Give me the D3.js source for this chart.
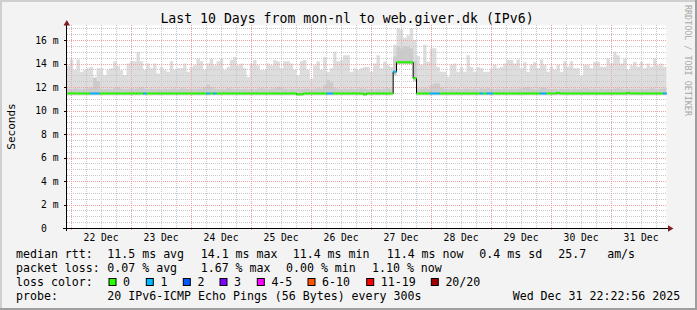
<!DOCTYPE html>
<html>
<head>
<meta charset="utf-8">
<script src="https://cdn.jsdelivr.net/npm/d3@7"></script>
<style>
  html, body { margin: 0; padding: 0; background: #f3f3f3; }
  svg { display: block; font-family: "DejaVu Sans Mono", monospace; }
  text { white-space: pre; }
</style>
</head>
<body>
<svg id="chart" width="697" height="310"></svg>
<script>
// top of the smoke (slowest ping) per step, ms
const rttMax = [
  13.8, 14.35, 13.45, 14.35, 13.3, 13.45, 13.6, 13.7, 12.75, 13.6,
  13.6, 13.0, 13.5, 13.6, 14.2, 13.8, 13.45, 13.0, 14.0, 14.2,
  14.2, 15.0, 14.2, 13.45, 14.0, 13.6, 14.0, 13.15, 13.7, 13.45,
  13.3, 14.2, 13.45, 13.6, 13.6, 14.0, 13.3, 13.7, 13.85, 14.4,
  14.2, 13.45, 14.0, 14.4, 13.85, 14.2, 14.4, 13.45, 13.7, 14.3,
  14.55, 13.85, 14.0, 13.6, 12.85, 14.0, 14.3, 13.85, 13.45, 13.45,
  14.0, 13.85, 14.3, 14.2, 13.6, 14.2, 14.2, 14.0, 13.45, 13.0,
  14.2, 14.3, 13.45, 12.7, 13.85, 14.2, 13.45, 14.55, 13.3, 13.6,
  15.0, 14.2, 14.3, 14.7, 14.7, 13.3, 13.6, 13.45, 13.6, 13.7,
  13.7, 13.3, 14.0, 14.7, 13.6, 14.15, 13.85, 13.7, 15.6, 17.0,
  16.9, 16.2, 16.4, 17.0, 16.0, 14.66, 13.9, 15.6, 14.15, 15.3,
  15.3, 13.7, 13.3, 13.3, 12.9, 13.9, 14.0, 13.3, 13.7, 13.3,
  14.7, 13.7, 13.3, 13.7, 13.6, 13.3, 13.3, 13.6, 13.9, 13.6,
  13.7, 14.0, 14.3, 14.3, 14.0, 14.35, 13.6, 14.1, 13.3, 13.9,
  14.1, 13.6, 14.35, 13.9, 13.3, 13.75, 13.5, 13.9, 13.3, 14.2,
  13.75, 14.2, 13.6, 13.6, 13.0, 13.9, 13.9, 13.6, 14.15, 14.15,
  13.73, 13.73, 14.43, 14.0, 15.0, 14.7, 14.0, 14.43, 13.45, 13.85,
  14.15, 13.73, 14.15, 13.6, 14.0, 13.73, 14.43, 13.85, 14.0, 13.73
];
// top of the dense (darker) part of the smoke, ms
const rttDark = [
  11.85, 11.8, 11.9, 11.85, 11.8, 11.85, 11.9, 11.95, 12.8, 12.5,
  11.85, 11.8, 11.85, 11.8, 11.9, 12.0, 11.85, 11.8, 11.85, 11.9,
  11.85, 11.9, 11.95, 11.85, 11.8, 11.85, 11.8, 11.85, 11.8, 11.85,
  11.8, 11.85, 11.85, 11.8, 11.9, 11.85, 11.8, 11.85, 11.8, 11.85,
  11.85, 12.0, 12.2, 12.0, 11.85, 11.8, 11.85, 11.8, 11.9, 11.85,
  11.8, 11.85, 11.8, 11.85, 11.8, 11.85, 11.8, 11.85, 11.9, 11.85,
  11.8, 11.85, 11.9, 12.0, 12.0, 11.85, 11.8, 11.85, 11.8, 11.85,
  11.8, 11.85, 11.85, 11.8, 11.85, 11.9, 11.85, 12.2, 12.6, 12.4,
  11.9, 11.85, 11.8, 11.85, 11.8, 11.85, 11.8, 11.85, 11.9, 11.85,
  11.8, 11.85, 11.8, 11.85, 11.8, 11.85, 11.9, 11.85, 14.6, 15.4,
  15.3, 15.5, 15.4, 15.3, 14.2, 11.9, 11.85, 11.9, 11.85, 12.1,
  12.3, 12.3, 11.95, 11.85, 11.8, 11.85, 11.8, 11.85, 11.8, 11.85,
  11.85, 11.8, 11.85, 11.8, 11.9, 11.85, 11.9, 11.85, 11.8, 11.85,
  11.8, 11.85, 11.8, 11.85, 11.8, 11.85, 11.9, 11.95, 12.0, 11.85,
  11.8, 11.85, 11.95, 11.95, 11.85, 11.8, 11.85, 11.8, 11.85, 11.8,
  11.85, 11.8, 11.85, 11.8, 11.85, 11.9, 11.85, 11.8, 11.85, 11.8,
  11.85, 11.8, 11.85, 11.8, 11.85, 11.9, 11.85, 11.8, 11.85, 11.8,
  11.85, 11.8, 11.85, 11.8, 11.85, 11.9, 11.85, 11.8, 11.85, 11.9
];
// bottom of the smoke (fastest ping), ms
const rttLow = [
  11.3, 11.3, 11.3, 11.3, 11.3, 11.3, 11.3, 11.3, 11.3, 11.3,
  11.3, 11.3, 11.3, 11.3, 11.3, 11.3, 11.3, 11.3, 11.3, 11.3,
  11.3, 11.3, 11.3, 11.3, 11.3, 11.3, 11.3, 11.3, 11.3, 11.3,
  11.3, 11.3, 11.3, 11.3, 11.3, 11.3, 11.3, 11.3, 11.3, 11.3,
  11.3, 11.3, 11.3, 11.3, 11.3, 11.3, 11.3, 11.3, 11.3, 11.3,
  11.3, 11.3, 11.3, 11.3, 11.3, 11.3, 11.3, 11.3, 11.3, 11.3,
  11.3, 11.3, 11.3, 11.3, 11.3, 11.3, 11.3, 11.3, 11.3, 11.25,
  11.25, 11.3, 11.3, 11.3, 11.3, 11.3, 11.3, 11.3, 11.3, 11.3,
  11.3, 11.3, 11.3, 11.3, 11.3, 11.3, 11.3, 11.3, 11.3, 11.25,
  11.3, 11.3, 11.3, 11.3, 11.3, 11.3, 11.3, 11.3, 13.0, 13.95,
  13.95, 13.95, 13.95, 13.95, 12.5, 11.3, 11.3, 11.3, 11.3, 11.3,
  11.3, 11.3, 11.3, 11.3, 11.3, 11.3, 11.3, 11.3, 11.3, 11.3,
  11.3, 11.3, 11.3, 11.3, 11.3, 11.3, 11.3, 11.3, 11.3, 11.3,
  11.3, 11.3, 11.3, 11.3, 11.3, 11.3, 11.3, 11.3, 11.3, 11.3,
  11.3, 11.3, 11.3, 11.3, 11.3, 11.3, 11.3, 11.3, 11.3, 11.3,
  11.3, 11.3, 11.3, 11.3, 11.3, 11.3, 11.3, 11.3, 11.3, 11.3,
  11.3, 11.3, 11.3, 11.3, 11.3, 11.3, 11.3, 11.3, 11.3, 11.3,
  11.3, 11.3, 11.3, 11.3, 11.3, 11.3, 11.3, 11.3, 11.3, 11.3
];
// median rtt, ms
const rttMedian = [
  11.45, 11.45, 11.45, 11.45, 11.45, 11.45, 11.45, 11.45, 11.45, 11.45,
  11.45, 11.45, 11.45, 11.45, 11.45, 11.45, 11.45, 11.45, 11.45, 11.45,
  11.45, 11.45, 11.45, 11.45, 11.45, 11.45, 11.45, 11.45, 11.45, 11.45,
  11.45, 11.45, 11.45, 11.45, 11.45, 11.45, 11.45, 11.45, 11.45, 11.45,
  11.45, 11.45, 11.45, 11.45, 11.45, 11.45, 11.45, 11.45, 11.45, 11.45,
  11.45, 11.45, 11.45, 11.45, 11.45, 11.45, 11.45, 11.45, 11.45, 11.45,
  11.45, 11.45, 11.45, 11.45, 11.45, 11.45, 11.45, 11.45, 11.45, 11.38,
  11.38, 11.45, 11.45, 11.45, 11.45, 11.45, 11.45, 11.45, 11.45, 11.45,
  11.45, 11.45, 11.45, 11.45, 11.45, 11.45, 11.45, 11.45, 11.45, 11.38,
  11.45, 11.45, 11.45, 11.45, 11.45, 11.45, 11.45, 11.45, 13.3, 14.1,
  14.1, 14.1, 14.1, 14.1, 12.75, 11.45, 11.45, 11.45, 11.45, 11.45,
  11.45, 11.45, 11.45, 11.45, 11.45, 11.45, 11.45, 11.45, 11.45, 11.45,
  11.45, 11.45, 11.45, 11.45, 11.45, 11.45, 11.45, 11.45, 11.45, 11.45,
  11.45, 11.45, 11.45, 11.45, 11.45, 11.45, 11.45, 11.45, 11.45, 11.45,
  11.45, 11.45, 11.45, 11.45, 11.45, 11.45, 11.45, 11.5, 11.45, 11.45,
  11.45, 11.45, 11.45, 11.45, 11.45, 11.45, 11.45, 11.45, 11.45, 11.45,
  11.45, 11.45, 11.45, 11.45, 11.45, 11.45, 11.45, 11.45, 11.5, 11.45,
  11.45, 11.45, 11.45, 11.45, 11.45, 11.45, 11.45, 11.45, 11.45, 11.45
];
// lost pings out of 20 per step
const lossCount = [
  0, 0, 0, 0, 0, 0, 0, 1, 1, 1,
  0, 0, 0, 0, 0, 0, 0, 0, 0, 0,
  0, 0, 0, 1, 0, 0, 0, 0, 0, 0,
  0, 0, 0, 0, 0, 0, 0, 0, 0, 0,
  0, 0, 1, 0, 1, 0, 0, 0, 0, 0,
  0, 0, 0, 0, 0, 0, 0, 0, 0, 0,
  0, 0, 0, 0, 0, 0, 0, 0, 0, 0,
  0, 0, 0, 0, 0, 0, 0, 0, 1, 1,
  0, 0, 0, 0, 0, 0, 0, 0, 0, 0,
  0, 0, 0, 0, 0, 0, 0, 0, 1, 0,
  0, 0, 0, 0, 0, 0, 0, 0, 0, 1,
  1, 1, 0, 0, 0, 0, 0, 0, 0, 0,
  0, 0, 0, 0, 1, 0, 1, 1, 0, 0,
  0, 0, 0, 0, 0, 0, 0, 0, 0, 0,
  0, 0, 1, 1, 0, 0, 0, 0, 0, 0,
  0, 0, 0, 0, 0, 0, 0, 0, 0, 0,
  0, 0, 0, 0, 0, 0, 0, 0, 0, 0,
  0, 0, 0, 0, 0, 0, 0, 0, 0, 1
];

const dayLabels = ["22 Dec", "23 Dec", "24 Dec", "25 Dec", "26 Dec", "27 Dec", "28 Dec", "29 Dec", "30 Dec", "31 Dec"];
const yTicks = [0, 2, 4, 6, 8, 10, 12, 14, 16];
const lossLabels = ["0", "1", "2", "3", "4-5", "6-10", "11-19", "20/20"];
const lossColors = ["#26ff00", "#00b8ff", "#0059ff", "#7e00ff", "#ff00ff", "#ff5500", "#ff0000", "#a10000"];
const rttLegend = ["11.5 ms avg", "14.1 ms max", "11.4 ms min", "11.4 ms now", "0.4 ms sd", "25.7   am/s"];
const lossLegend = ["0.07 % avg", "1.67 % max", "0.00 % min", "1.10 % now"];
const titleText = "Last 10 Days from mon-nl to web.giver.dk (IPv6)";
const probeText = "20 IPv6-ICMP Echo Pings (56 Bytes) every 300s";
const stampText = "Wed Dec 31 22:22:56 2025";

const svg = d3.select("#chart");
const W = 697, H = 310;
const t0 = Date.UTC(2025, 11, 21, 22, 22, 56), t1 = Date.UTC(2025, 11, 31, 22, 22, 56);
const n = rttMax.length, step = (t1 - t0) / n;

const data = rttMax.map((v, i) => ({
  t: new Date(t0 + i * step), max: v, dark: rttDark[i], low: rttLow[i],
  med: rttMedian[i], loss: lossCount[i]
}));
const pts = data.concat([Object.assign({}, data[n - 1], { t: new Date(t1) })]);

const x = d3.scaleUtc().domain([t0, t1]).range([66.5, 666.5]);
const y = d3.scaleLinear().domain([0, 16]).range([228, 40]);
const yTop = 17.25;

function lossIndex(l) {
  if (l <= 3) return l;
  if (l <= 5) return 4;
  if (l <= 10) return 5;
  if (l <= 19) return 6;
  return 7;
}

// frame
svg.append("rect").attr("width", W).attr("height", H).attr("fill", "#f3f3f3");
svg.append("rect").attr("x", 0).attr("y", 0).attr("width", W).attr("height", 2).attr("fill", "#cfcfcf");
svg.append("rect").attr("x", 0).attr("y", 0).attr("width", 2).attr("height", H).attr("fill", "#cfcfcf");
svg.append("rect").attr("x", 0).attr("y", H - 2).attr("width", W).attr("height", 2).attr("fill", "#9e9e9e");
svg.append("rect").attr("x", W - 2).attr("y", 0).attr("width", 2).attr("height", H).attr("fill", "#9e9e9e");

// canvas
svg.append("rect")
  .attr("x", 67).attr("y", y(yTop))
  .attr("width", 666.5 - 67).attr("height", y(0) - y(yTop))
  .attr("fill", "#ffffff");

// smoke
const smoke = svg.append("g");
smoke.append("path").datum(pts)
  .attr("fill", "#dddddd")
  .attr("d", d3.area().curve(d3.curveStepAfter)
    .x(d => x(d.t)).y0(d => y(d.low)).y1(d => y(d.max)));
smoke.append("path").datum(pts)
  .attr("fill", "#cbcbcb")
  .attr("d", d3.area().curve(d3.curveStepAfter)
    .x(d => x(d.t)).y0(d => y(d.low)).y1(d => y(d.dark)));

// grid
const grid = svg.append("g").attr("shape-rendering", "crispEdges").attr("stroke-dasharray", "1,1");
const hMinor = d3.range(1, 35).map(k => k * 0.5).filter(v => v % 2 !== 0);
grid.selectAll(".hmin").data(hMinor).enter().append("line")
  .attr("x1", 67).attr("x2", 666.5)
  .attr("y1", d => Math.round(y(d)) + 0.5).attr("y2", d => Math.round(y(d)) + 0.5)
  .attr("stroke", "#c8c8c8");
const vAll = x.ticks(d3.utcHour.every(6));
grid.selectAll(".vmin").data(vAll.filter(d => d.getUTCHours() !== 0)).enter().append("line")
  .attr("x1", d => Math.round(x(d)) + 0.5).attr("x2", d => Math.round(x(d)) + 0.5)
  .attr("y1", y(yTop)).attr("y2", 228)
  .attr("stroke", "#c8c8c8");
grid.selectAll(".hmaj").data(yTicks.filter(d => d > 0)).enter().append("line")
  .attr("x1", 67).attr("x2", 666.5)
  .attr("y1", d => Math.round(y(d)) + 0.5).attr("y2", d => Math.round(y(d)) + 0.5)
  .attr("stroke", "#f2a0a0");
grid.selectAll(".vmaj").data(vAll.filter(d => d.getUTCHours() === 0)).enter().append("line")
  .attr("x1", d => Math.round(x(d)) + 0.5).attr("x2", d => Math.round(x(d)) + 0.5)
  .attr("y1", y(yTop)).attr("y2", 231)
  .attr("stroke", "#f2a0a0");

// median line: black step line, loss-coloured segments on top
svg.append("path").datum(pts)
  .attr("fill", "none").attr("stroke", "#000").attr("stroke-width", 1)
  .attr("d", d3.line().curve(d3.curveStepAfter).x(d => x(d.t)).y(d => y(d.med)));
svg.append("g").selectAll("line").data(data).enter().append("line")
  .attr("x1", d => x(d.t)).attr("x2", d => x(new Date(+d.t + step)))
  .attr("y1", d => y(d.med)).attr("y2", d => y(d.med))
  .attr("stroke", d => lossColors[lossIndex(d.loss)])
  .attr("stroke-width", 2);

// axes
const xAxis = svg.append("g").attr("transform", "translate(0,228)")
  .call(d3.axisBottom(x)
    .tickValues(dayLabels.map((s, i) => d3.utcHour.offset(d3.utcDay.offset(new Date(Date.UTC(2025, 11, 22)), i), 12)))
    .tickFormat((d, i) => dayLabels[i])
    .tickSize(0).tickPadding(6));
xAxis.select(".domain").remove();
xAxis.selectAll("text").attr("font-size", "9.7px").attr("font-family", "DejaVu Sans Mono").attr("fill", "#000");

const yAxis = svg.append("g").attr("transform", "translate(66.5,0)")
  .call(d3.axisLeft(y).tickValues(yTicks)
    .tickFormat(d => d === 0 ? "0" : d + " m")
    .tickSize(3).tickPadding(5));
yAxis.select(".domain").remove();
yAxis.selectAll(".tick line").attr("stroke", "#000").attr("shape-rendering", "crispEdges");
yAxis.selectAll("text").attr("font-size", "9.7px").attr("font-family", "DejaVu Sans Mono").attr("fill", "#000")
  .attr("dx", d => d === 0 ? -11.7 : 0);

svg.append("line").attr("x1", 66.5).attr("x2", 66.5).attr("y1", 231).attr("y2", 25)
  .attr("stroke", "#000").attr("shape-rendering", "crispEdges");
svg.append("line").attr("x1", 63).attr("x2", 668).attr("y1", 228.5).attr("y2", 228.5)
  .attr("stroke", "#000").attr("shape-rendering", "crispEdges");
svg.append("path").attr("d", "M63.5,25.5L66.8,20L70,25.5Z").attr("fill", "#7f1f1f");
svg.append("path").attr("d", "M668,225.3L673.5,228.5L668,231.7Z").attr("fill", "#7f1f1f");

// title and labels
svg.append("text").attr("x", 347).attr("y", 22.5).attr("text-anchor", "middle")
  .attr("font-size", "13.2px").attr("fill", "#000").text(titleText);
svg.append("text").attr("transform", "translate(15,126.5) rotate(-90)").attr("text-anchor", "middle")
  .attr("font-size", "11px").attr("fill", "#000").text("Seconds");
svg.append("text").attr("transform", "translate(685,5) rotate(90)")
  .attr("font-size", "8.4px").attr("fill", "#a8a8a8").text("RRDTOOL / TOBI OETIKER");

// legend
const leg = svg.append("g").attr("font-size", "11.6px").attr("fill", "#000");
leg.append("text").attr("x", 16).attr("y", 258).text("median rtt:");
const rttX = [107.3, 200.7, 292.7, 386.7, 479.3, 558.3];
rttLegend.forEach((s, i) => leg.append("text").attr("x", rttX[i]).attr("y", 258).text(s));
leg.append("text").attr("x", 16).attr("y", 272).text("packet loss:");
const lossX = [107.3, 200.7, 286, 372];
lossLegend.forEach((s, i) => leg.append("text").attr("x", lossX[i]).attr("y", 272).text(s));
leg.append("text").attr("x", 16).attr("y", 285.7).text("loss color:");
const boxX = [108.5, 145.8, 182.8, 219.5, 256.8, 307.5, 366.2, 430.8];
lossLabels.forEach((s, i) => {
  leg.append("rect").attr("x", boxX[i] + 0.5).attr("y", 278.5).attr("width", 7).attr("height", 7)
    .attr("fill", lossColors[i]).attr("stroke", "#000").attr("stroke-width", 1);
  leg.append("text").attr("x", boxX[i] + 14.6).attr("y", 285.7).text(s);
});
leg.append("text").attr("x", 16).attr("y", 299.5).text("probe:");
leg.append("text").attr("x", 107.3).attr("y", 299.5).text(probeText);
leg.append("text").attr("x", 512.7).attr("y", 299.5).text(stampText);
</script>
</body>
</html>
